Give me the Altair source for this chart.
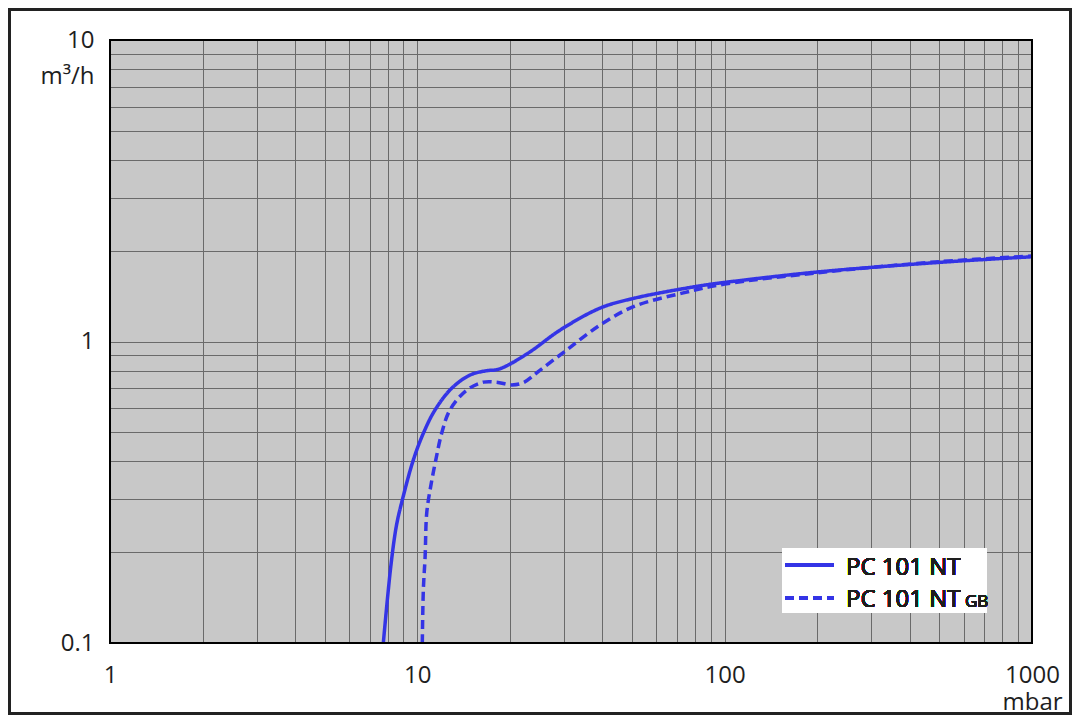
import altair as alt
import pandas as pd

# --- data ---
x_solid = [7.75, 8.2, 8.55, 8.95, 9.7, 10.46, 11.42, 12.94, 14.84, 16.8, 18.1, 19.5, 23.3, 29.1, 39.3, 50.5, 83.2, 100, 200, 500, 1000]
y_solid = [0.1, 0.18, 0.245, 0.3, 0.404, 0.496, 0.593, 0.70, 0.774, 0.80, 0.806, 0.83, 0.925, 1.09, 1.29, 1.39, 1.53, 1.57, 1.70, 1.83, 1.91]

x_gb = [10.38, 10.46, 10.6, 10.73, 11.05, 11.48, 12.0, 12.77, 14.48, 16.4, 18.1, 20.3, 22.1, 25.1, 30.6, 39.3, 50.5, 73.4, 100, 200, 500, 1000]
y_gb = [0.1, 0.15, 0.193, 0.27, 0.33, 0.404, 0.496, 0.593, 0.69, 0.733, 0.733, 0.718, 0.73, 0.804, 0.937, 1.134, 1.305, 1.45, 1.55, 1.69, 1.84, 1.92]

series_names = ["PC 101 NT", "PC 101 NT GB"]

x_grid = [1, 2, 3, 4, 5, 6, 7, 8, 9, 10, 20, 30, 40, 50, 60, 70, 80, 90,
          100, 200, 300, 400, 500, 600, 700, 800, 900, 1000]
y_grid = [0.1, 0.2, 0.3, 0.4, 0.5, 0.6, 0.7, 0.8, 0.9, 1, 2, 3, 4, 5, 6, 7, 8, 9, 10]
x_labels = [1, 10, 100, 1000]
y_labels = [0.1, 1, 10]

df = pd.concat([
    pd.DataFrame({"p": x_solid, "s": y_solid, "series": series_names[0]}),
    pd.DataFrame({"p": x_gb, "s": y_gb, "series": series_names[1]}),
])

W, H = 922, 603
FONT = "Open Sans"
BLUE = "#3434e6"
TXT = "#1e1e1e"

x_enc = alt.X("p:Q", scale=alt.Scale(type="log", domain=[1, 1000], nice=False),
              axis=alt.Axis(values=x_grid, format="~g",
                            labelExpr="indexof(%s, datum.value) >= 0 ? datum.label : ''" % x_labels,
                            grid=True, ticks=False, domain=False, labelOverlap=False,
                            labelFlush=False, labelFont=FONT, labelFontSize=24, labelColor=TXT,
                            labelPadding=20, title="mbar", titleX=W, titleY=66,
                            titleAlign="center", titleBaseline="alphabetic",
                            titleFont=FONT, titleFontSize=24, titleFontWeight="normal",
                            titleColor=TXT))
y_enc = alt.Y("s:Q", scale=alt.Scale(type="log", domain=[0.1, 10], nice=False),
              axis=alt.Axis(values=y_grid, format="~g",
                            labelExpr="indexof(%s, datum.value) >= 0 ? datum.label : ''" % y_labels,
                            grid=True, ticks=False, domain=False, labelOverlap=False,
                            labelFlush=False, labelFont=FONT, labelFontSize=24, labelColor=TXT,
                            labelPadding=16, title="m³/h", titleAngle=0, titleX=-16, titleY=43.5,
                            titleAlign="right", titleBaseline="alphabetic",
                            titleFont=FONT, titleFontSize=24, titleFontWeight="normal",
                            titleColor=TXT))

lines = alt.Chart(df).mark_line(strokeWidth=3.5, color=BLUE, clip=True, interpolate="catmull-rom").encode(
    x=x_enc, y=y_enc,
    strokeDash=alt.StrokeDash("series:N", scale=alt.Scale(domain=series_names, range=[[1, 0], [9, 5]]), legend=None),
)

frame = alt.Chart(df).mark_rect(fillOpacity=0, stroke="black", strokeWidth=2).encode(
    x=alt.value(0), x2=alt.value(W), y=alt.value(0), y2=alt.value(H))

outer = alt.Chart(df).mark_rect(fillOpacity=0, stroke="#222222", strokeWidth=3).encode(
    x=alt.value(-100.5), x2=alt.value(W + 38.5), y=alt.value(-30.5), y2=alt.value(H + 70.5))

leg_box = alt.Chart(df).mark_rect(fill="white", stroke=None).encode(
    x=alt.value(672), x2=alt.value(877), y=alt.value(508), y2=alt.value(573))
leg_solid = alt.Chart(df).mark_rule(color=BLUE, strokeWidth=3.5).encode(
    x=alt.value(675), x2=alt.value(724), y=alt.value(525))
leg_dash = alt.Chart(df).mark_rule(color=BLUE, strokeWidth=3.5, strokeDash=[9, 5]).encode(
    x=alt.value(675), x2=alt.value(724), y=alt.value(558))
leg_t1 = alt.Chart(df).mark_text(text="PC 101 NT", font=FONT, fontSize=24, color=TXT, align="left",
                                 baseline="alphabetic").encode(x=alt.value(736), y=alt.value(535))
leg_t2 = alt.Chart(df).mark_text(text="PC 101 NT", font=FONT, fontSize=24, color=TXT, align="left",
                                 baseline="alphabetic").encode(x=alt.value(736), y=alt.value(567))
leg_t3 = alt.Chart(df).mark_text(text="GB", font=FONT, fontSize=17, color=TXT, align="left",
                                 baseline="alphabetic").encode(x=alt.value(855), y=alt.value(567))

chart = alt.layer(lines, frame, leg_box, leg_solid, leg_dash, leg_t1, leg_t2, leg_t3, outer).properties(
    width=W, height=H,
    autosize=alt.AutoSizeParams(type="none"),
    padding={"left": 102, "top": 32, "right": 40, "bottom": 72},
    background="white",
).configure_view(fill="#c8c8c8", stroke="black", strokeWidth=2).configure_axis(
    gridColor="#6a6a6a", gridWidth=1, gridOpacity=1)

chart.save("out.html", embed_options={"renderer": "svg", "actions": False})
